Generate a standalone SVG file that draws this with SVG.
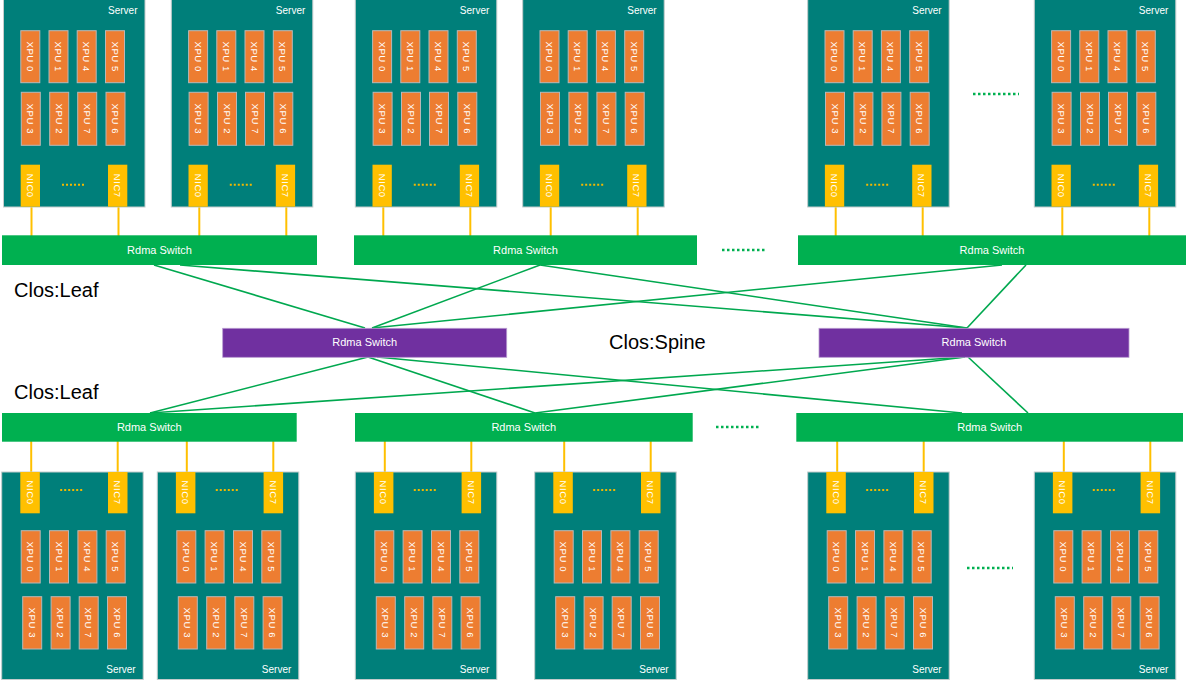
<svg xmlns="http://www.w3.org/2000/svg" width="1186" height="681" viewBox="0 0 1186 681">
<style>
.srv{fill:#007F7A;stroke:#C4CCCC;stroke-width:1}
.xpu{fill:#ED7D31;stroke:#B8B8B8;stroke-width:1}
.nic{fill:#FFC000}
.xt{font-family:"Liberation Sans",Arial,sans-serif;font-size:9.5px;fill:#FFFFFF;text-anchor:middle;dominant-baseline:central;letter-spacing:0.6px}
.sl{font-family:"Liberation Sans",Arial,sans-serif;font-size:10px;fill:#FFFFFF;text-anchor:end}
.dots{stroke:#F2B800;stroke-width:2;stroke-dasharray:2 2}
.leaf{fill:#00B050}
.spine{fill:#7030A0;stroke:#B89BD0;stroke-width:0.8}
.swt{font-family:"Liberation Sans",Arial,sans-serif;font-size:11px;fill:#FFFFFF;text-anchor:middle}
.big{font-family:"Liberation Sans",Arial,sans-serif;font-size:20px;fill:#000000}
.gdots{stroke:#00B050;stroke-width:2.5;stroke-dasharray:2.5 2.5}
.link{stroke:#00A84F;stroke-width:1.6;fill:none}
.nicl{stroke:#FFC000;stroke-width:2;fill:none}
</style>
<defs>
<g id="srvT">
<rect class="srv" x="0" y="-1" width="141.5" height="208"/>
<text class="sl" x="134" y="14">Server</text>
<rect class="xpu" x="17.3" y="30.7" width="19" height="52"/><text class="xt" transform="translate(26.8,56.7) rotate(90)">XPU 0</text>
<rect class="xpu" x="45.5" y="30.7" width="19" height="52"/><text class="xt" transform="translate(55,56.7) rotate(90)">XPU 1</text>
<rect class="xpu" x="73.7" y="30.7" width="19" height="52"/><text class="xt" transform="translate(83.2,56.7) rotate(90)">XPU 4</text>
<rect class="xpu" x="102" y="30.7" width="19" height="52"/><text class="xt" transform="translate(111.5,56.7) rotate(90)">XPU 5</text>
<rect class="xpu" x="17.8" y="92.3" width="19" height="53"/><text class="xt" transform="translate(27.3,118.8) rotate(90)">XPU 3</text>
<rect class="xpu" x="46.2" y="92.3" width="19" height="53"/><text class="xt" transform="translate(55.7,118.8) rotate(90)">XPU 2</text>
<rect class="xpu" x="74.2" y="92.3" width="19" height="53"/><text class="xt" transform="translate(83.7,118.8) rotate(90)">XPU 7</text>
<rect class="xpu" x="102.5" y="92.3" width="19" height="53"/><text class="xt" transform="translate(112,118.8) rotate(90)">XPU 6</text>
<rect class="nic" x="17.2" y="164.7" width="19.3" height="42"/><text class="xt" transform="translate(26.85,185.7) rotate(90)">NIC0</text>
<rect class="nic" x="104.5" y="164.7" width="19.3" height="42"/><text class="xt" transform="translate(114.15,185.7) rotate(90)">NIC7</text>
<line class="dots" x1="58.5" y1="184.7" x2="82.5" y2="184.7"/>
</g>
<g id="srvB">
<rect class="srv" x="0" y="0" width="141.5" height="207.5"/>
<text class="sl" x="134" y="201">Server</text>
<rect class="nic" x="18.6" y="0" width="19.5" height="41.3"/><text class="xt" transform="translate(28.35,20.6) rotate(90)">NIC0</text>
<rect class="nic" x="106.3" y="0" width="19.5" height="41.3"/><text class="xt" transform="translate(116.05,20.6) rotate(90)">NIC7</text>
<line class="dots" x1="58.5" y1="18" x2="82.5" y2="18"/>
<rect class="xpu" x="19.5" y="58.7" width="19" height="52.3"/><text class="xt" transform="translate(29,84.85) rotate(90)">XPU 0</text>
<rect class="xpu" x="47.8" y="58.7" width="19" height="52.3"/><text class="xt" transform="translate(57.3,84.85) rotate(90)">XPU 1</text>
<rect class="xpu" x="76.2" y="58.7" width="19" height="52.3"/><text class="xt" transform="translate(85.7,84.85) rotate(90)">XPU 4</text>
<rect class="xpu" x="104.5" y="58.7" width="19" height="52.3"/><text class="xt" transform="translate(114,84.85) rotate(90)">XPU 5</text>
<rect class="xpu" x="21" y="124.7" width="19" height="52.3"/><text class="xt" transform="translate(30.5,150.85) rotate(90)">XPU 3</text>
<rect class="xpu" x="49.4" y="124.7" width="19" height="52.3"/><text class="xt" transform="translate(58.9,150.85) rotate(90)">XPU 2</text>
<rect class="xpu" x="77.5" y="124.7" width="19" height="52.3"/><text class="xt" transform="translate(87,150.85) rotate(90)">XPU 7</text>
<rect class="xpu" x="105.8" y="124.7" width="19" height="52.3"/><text class="xt" transform="translate(115.3,150.85) rotate(90)">XPU 6</text>
</g>
</defs>
<g id="connectors">
<line class="nicl" x1="31.5" y1="207" x2="31.5" y2="236"/><line class="nicl" x1="118.5" y1="207" x2="118.5" y2="236"/>
<line class="nicl" x1="199.3" y1="207" x2="199.3" y2="236"/><line class="nicl" x1="286.3" y1="207" x2="286.3" y2="236"/>
<line class="nicl" x1="383.3" y1="207" x2="383.3" y2="236"/><line class="nicl" x1="470.3" y1="207" x2="470.3" y2="236"/>
<line class="nicl" x1="550.7" y1="207" x2="550.7" y2="236"/><line class="nicl" x1="637.7" y1="207" x2="637.7" y2="236"/>
<line class="nicl" x1="835.7" y1="207" x2="835.7" y2="236"/><line class="nicl" x1="922.7" y1="207" x2="922.7" y2="236"/>
<line class="nicl" x1="1062.3" y1="207" x2="1062.3" y2="236"/><line class="nicl" x1="1149.3" y1="207" x2="1149.3" y2="236"/>
<line class="nicl" x1="31.2" y1="441" x2="31.2" y2="472"/><line class="nicl" x1="117.7" y1="441" x2="117.7" y2="472"/>
<line class="nicl" x1="186.8" y1="441" x2="186.8" y2="472"/><line class="nicl" x1="273.3" y1="441" x2="273.3" y2="472"/>
<line class="nicl" x1="384.8" y1="441" x2="384.8" y2="472"/><line class="nicl" x1="471.3" y1="441" x2="471.3" y2="472"/>
<line class="nicl" x1="564.2" y1="441" x2="564.2" y2="472"/><line class="nicl" x1="650.7" y1="441" x2="650.7" y2="472"/>
<line class="nicl" x1="837.2" y1="441" x2="837.2" y2="472"/><line class="nicl" x1="923.7" y1="441" x2="923.7" y2="472"/>
<line class="nicl" x1="1063.8" y1="441" x2="1063.8" y2="472"/><line class="nicl" x1="1150.3" y1="441" x2="1150.3" y2="472"/>
<line class="link" x1="154" y1="265" x2="365" y2="328"/>
<line class="link" x1="180" y1="265" x2="967" y2="328"/>
<line class="link" x1="540" y1="265" x2="372" y2="328"/>
<line class="link" x1="540" y1="265" x2="967" y2="328"/>
<line class="link" x1="1002" y1="265" x2="372" y2="328"/>
<line class="link" x1="1026" y1="265" x2="967" y2="328"/>
<line class="link" x1="368" y1="357" x2="150" y2="413"/>
<line class="link" x1="965" y1="357" x2="150" y2="413"/>
<line class="link" x1="368" y1="357" x2="535" y2="413"/>
<line class="link" x1="965" y1="357" x2="535" y2="413"/>
<line class="link" x1="377" y1="357" x2="962" y2="413"/>
<line class="link" x1="968" y1="357" x2="1028" y2="413"/>
</g>
<g id="server-t1" transform="translate(3.5,0)"><use href="#srvT"/></g>
<g id="server-t2" transform="translate(171.3,0)"><use href="#srvT"/></g>
<g id="server-t3" transform="translate(355.3,0)"><use href="#srvT"/></g>
<g id="server-t4" transform="translate(522.7,0)"><use href="#srvT"/></g>
<g id="server-t5" transform="translate(807.7,0)"><use href="#srvT"/></g>
<g id="server-t6" transform="translate(1034.3,0)"><use href="#srvT"/></g>
<g id="server-b1" transform="translate(1.7,472)"><use href="#srvB"/></g>
<g id="server-b2" transform="translate(157.3,472)"><use href="#srvB"/></g>
<g id="server-b3" transform="translate(355.3,472)"><use href="#srvB"/></g>
<g id="server-b4" transform="translate(534.7,472)"><use href="#srvB"/></g>
<g id="server-b5" transform="translate(807.7,472)"><use href="#srvB"/></g>
<g id="server-b6" transform="translate(1034.3,472)"><use href="#srvB"/></g>
<g id="leaf-t1"><rect class="leaf" x="2" y="235.3" width="315" height="29.7"/><text class="swt" x="159.5" y="254">Rdma Switch</text></g>
<g id="leaf-t2"><rect class="leaf" x="354" y="235.3" width="343" height="29.7"/><text class="swt" x="525.5" y="254">Rdma Switch</text></g>
<g id="leaf-t3"><rect class="leaf" x="798" y="235.3" width="388" height="29.7"/><text class="swt" x="992" y="254">Rdma Switch</text></g>
<g id="spine-1"><rect class="spine" x="222.7" y="328.3" width="284" height="29"/><text class="swt" x="364.7" y="346">Rdma Switch</text></g>
<g id="spine-2"><rect class="spine" x="819" y="328.3" width="310" height="29"/><text class="swt" x="974" y="346">Rdma Switch</text></g>
<g id="leaf-b1"><rect class="leaf" x="2" y="413" width="294.7" height="28.7"/><text class="swt" x="149.3" y="431">Rdma Switch</text></g>
<g id="leaf-b2"><rect class="leaf" x="355" y="413" width="337.7" height="28.7"/><text class="swt" x="523.8" y="431">Rdma Switch</text></g>
<g id="leaf-b3"><rect class="leaf" x="796.3" y="413" width="386.7" height="28.7"/><text class="swt" x="989.7" y="431">Rdma Switch</text></g>
<g id="labels">
<text class="big" x="14" y="297">Clos:Leaf</text>
<text class="big" x="609" y="349">Clos:Spine</text>
<text class="big" x="14" y="399">Clos:Leaf</text>
<line class="gdots" x1="973" y1="94" x2="1019" y2="94"/>
<line class="gdots" x1="722" y1="250" x2="767" y2="250"/>
<line class="gdots" x1="716" y1="427" x2="761" y2="427"/>
<line class="gdots" x1="967" y1="568" x2="1013" y2="568"/>
</g>
</svg>
